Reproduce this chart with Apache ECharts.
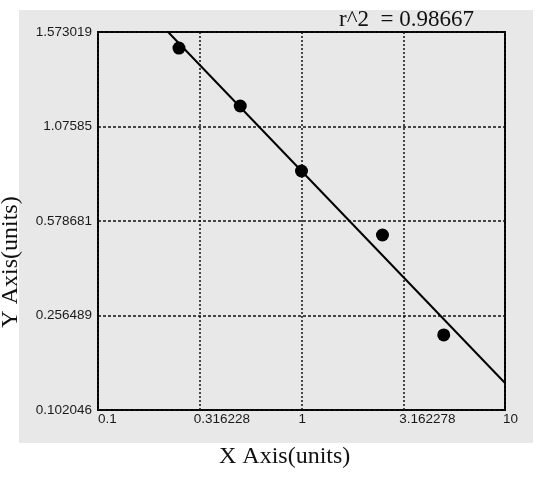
<!DOCTYPE html>
<html>
<head>
<meta charset="utf-8">
<script src="https://cdn.jsdelivr.net/npm/echarts@6/dist/echarts.min.js"></script>
<style>
html,body{margin:0;padding:0;background:#fff;}
#chart{width:549px;height:477px;}
</style>
</head>
<body>
<div id="chart"></div>
<script>
// ---- data ----
const xTickVals = [0.1, 0.316228, 1, 3.162278, 10];
const xTickLabels = ['0.1', '0.316228', '1', '3.162278', '10'];
const yTickVals = [0.102046, 0.256489, 0.578681, 1.07585, 1.573019];
const yTickLabels = ['0.102046', '0.256489', '0.578681', '1.07585', '1.573019'];
const xValues = [0.25, 0.5, 1, 2.5, 5];
const yValues = [1.4885, 1.1837, 0.8417, 0.5310, 0.2247];
const fitX = [0.221, 10];
const fitY = [1.573019, 0.1462];
const r2Text = 'r^2  = 0.98667';
const xTitle = 'X Axis(units)';
const yTitle = 'Y Axis(units)';

// y axis of the reference has evenly spaced, non-uniform tick values:
// map a value to its position between those ticks
function yPos(v) {
  for (let i = 0; i < yTickVals.length - 1; i++) {
    const a = yTickVals[i], b = yTickVals[i + 1];
    if (v <= b || i === yTickVals.length - 2) return i + (v - a) / (b - a);
  }
  return 0;
}
function xIndex(v) {
  let best = 0, bd = Infinity;
  xTickVals.forEach((t, i) => {
    const d = Math.abs(Math.log(t) - Math.log(v));
    if (d < bd) { bd = d; best = i; }
  });
  return best;
}

const pts = xValues.map((x, i) => [x, yPos(yValues[i])]);
const fit = fitX.map((x, i) => [x, yPos(fitY[i])]);

const chart = echarts.init(document.getElementById('chart'), null, {renderer: 'canvas'});
const labelFont = {fontFamily: 'Liberation Sans, Arial, sans-serif', fontSize: 13.5, color: '#1a1a1a'};
const rich = {};
[[0], [-6], [-3], [-4], [-2]].forEach((p, i) => {
  rich['l' + i] = Object.assign({padding: [0, 0, 0, p[0]]}, labelFont);
});
chart.setOption({
  backgroundColor: '#ffffff',
  animation: false,
  graphic: [
    {type: 'rect', z: -100, silent: true, shape: {x: 19, y: 10, width: 514, height: 433}, style: {fill: '#e8e8e8'}},
    {type: 'text', z: 100, left: 339, top: 8, style: {text: r2Text, font: '23px "Liberation Serif", "Times New Roman", serif', fill: '#111'}},
    {type: 'text', z: 100, left: 219, top: 445, style: {text: xTitle, font: '24px "Liberation Serif", "Times New Roman", serif', fill: '#111'}},
    {type: 'text', z: 100, x: -1, y: 262, rotation: Math.PI / 2, originX: 0, originY: 0,
     style: {text: yTitle, font: '24px "Liberation Serif", "Times New Roman", serif', fill: '#111', align: 'center', verticalAlign: 'top'}}
  ],
  grid: {left: 98, top: 32, width: 407, height: 378, show: true, backgroundColor: '#e8e8e8', borderColor: '#000', borderWidth: 2, containLabel: false},
  xAxis: {
    type: 'log', logBase: Math.sqrt(10), min: 0.1, max: 10, splitNumber: 4,
    axisLine: {show: false}, axisTick: {show: false},
    splitLine: {show: true, lineStyle: {color: '#111', width: 1.5, type: [2, 2]}},
    axisLabel: Object.assign({margin: 2, align: 'left', showMinLabel: true, showMaxLabel: true, hideOverlap: false, rich: rich,
      formatter: v => { const i = xIndex(v); return '{l' + i + '|' + xTickLabels[i] + '}'; }}, labelFont)
  },
  yAxis: {
    type: 'value', min: 0, max: 4, interval: 1,
    axisLine: {show: false}, axisTick: {show: false},
    splitLine: {show: true, lineStyle: {color: '#111', width: 1.5, type: [3, 2]}},
    axisLabel: Object.assign({margin: 6, showMinLabel: true, showMaxLabel: true, hideOverlap: false,
      formatter: v => yTickLabels[Math.round(v)]}, labelFont)
  },
  series: [
    {type: 'line', data: fit, showSymbol: false, symbol: 'none', lineStyle: {color: '#000', width: 2}, z: 3, silent: true},
    {type: 'scatter', data: pts, symbol: 'circle', symbolSize: 13, itemStyle: {color: '#000', opacity: 1}, z: 4}
  ]
});
</script>
</body>
</html>
